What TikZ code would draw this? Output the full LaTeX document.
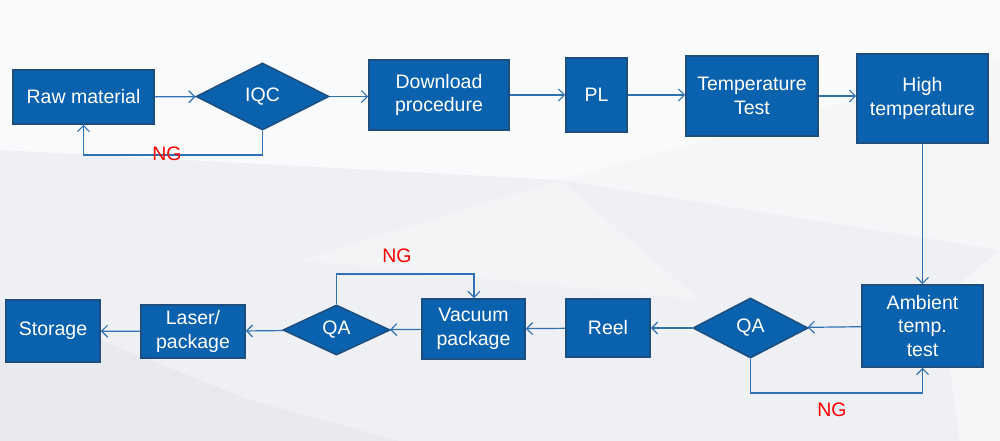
\documentclass[tikz,border=0pt]{standalone}
\usepackage{fontspec}
\setmainfont{Liberation Sans}
\usetikzlibrary{shapes.geometric,arrows.meta}
\definecolor{boxfill}{HTML}{0A62AE}
\definecolor{boxline}{HTML}{1C4F80}
\definecolor{arr}{HTML}{2E72B5}
\definecolor{bg}{HTML}{EEF0F3}
\definecolor{ngred}{HTML}{FF0000}
\tikzset{
  box/.style={draw=boxline, line width=1.6pt, fill=boxfill, text=white, font=\fontsize{19.5}{23.5}\selectfont, align=center, inner sep=0pt},
  dia/.style={diamond, draw=boxline, line width=1.6pt, fill=boxfill, text=white, font=\fontsize{19.5}{23.5}\selectfont, inner sep=0pt},
  flow/.style={draw=arr, line width=1.2pt, -{Straight Barb[length=6pt,width=12pt,line width=1.2pt]}},
  ng/.style={text=ngred, font=\fontsize{19.5}{23.5}\selectfont}
}
\begin{document}
\begin{tikzpicture}[x=1pt,y=-1pt]
\useasboundingbox (0,0) rectangle (1000,441);
\fill[bg] (0,0) rectangle (1000,441);
\fill[white, opacity=0.7] (0,0) -- (1000,0) -- (1000,60) -- (560,180) -- (0,150) -- cycle;
\fill[white, opacity=0.4] (560,180) -- (1000,60) -- (1000,250) -- cycle;
\fill[white, opacity=0.3] (300,260) -- (560,180) -- (700,300) -- cycle;
\fill[white, opacity=0.4] (940,300) -- (1000,250) -- (1000,441) -- (960,441) -- cycle;
\fill[black, opacity=0.025] (0,441) -- (0,300) -- (250,400) -- (400,441) -- cycle;

\node[box, minimum width=141, minimum height=54] (raw) at (83.5,97) {Raw material};
\node[dia, minimum width=133, minimum height=67] (iqc) at (262.5,96.5) {IQC};
\node[box, minimum width=140, minimum height=70] (dl) at (439,95) {Download\\procedure};
\node[box, minimum width=61, minimum height=74] (pl) at (596.5,95) {PL};
\node[box, minimum width=132, minimum height=80] (tt) at (752,96) {Temperature\\Test};
\node[box, minimum width=131, minimum height=89] (ht) at (922.5,98.5) {High\\temperature};
\node[box, minimum width=121, minimum height=82] (amb) at (922.5,326) {Ambient\\temp.\\test};
\node[dia, minimum width=115, minimum height=60] (qa1) at (750.5,328) {QA};
\node[box, minimum width=84, minimum height=58] (reel) at (608,328) {Reel};
\node[box, minimum width=103, minimum height=60] (vac) at (473.5,329) {Vacuum\\package};
\node[dia, minimum width=107, minimum height=50] (qa2) at (336.5,330) {QA};
\node[box, minimum width=104, minimum height=53] (las) at (193,331.5) {Laser/\\package};
\node[box, minimum width=94, minimum height=62] (sto) at (53,331) {Storage};

\draw[flow] (raw) -- (iqc);
\draw[flow] (iqc) -- (dl.west|-iqc);
\draw[flow] (dl) -- (pl);
\draw[flow] (pl) -- (tt.west|-pl);
\draw[flow] (tt) -- (ht.west|-tt);
\draw[flow] (ht) -- (amb);
\draw[flow] (amb) -- (qa1);
\draw[flow] (qa1) -- (reel);
\draw[flow] (reel) -- (vac);
\draw[flow] (vac) -- (qa2);
\draw[flow] (qa2) -- (las);
\draw[flow] (las) -- (sto);

\coordinate (l1) at (262.5,155);
\coordinate (l2) at (83.5,155);
\draw[flow] (iqc.south) -- (l1) -- (l2) -- (raw.south);
\node[ng] (ng1) at (167,154) {NG};

\coordinate (m1) at (336.5,274);
\coordinate (m2) at (474,274);
\draw[flow] (qa2.north) -- (m1) -- (m2) -- (vac.north-|m2);
\node[ng] (ng2) at (397,256) {NG};

\coordinate (r1) at (750.5,393);
\coordinate (r2) at (922.5,393);
\draw[flow] (qa1.south) -- (r1) -- (r2) -- (amb.south);
\node[ng] (ng3) at (832,410) {NG};
\end{tikzpicture}
\end{document}
